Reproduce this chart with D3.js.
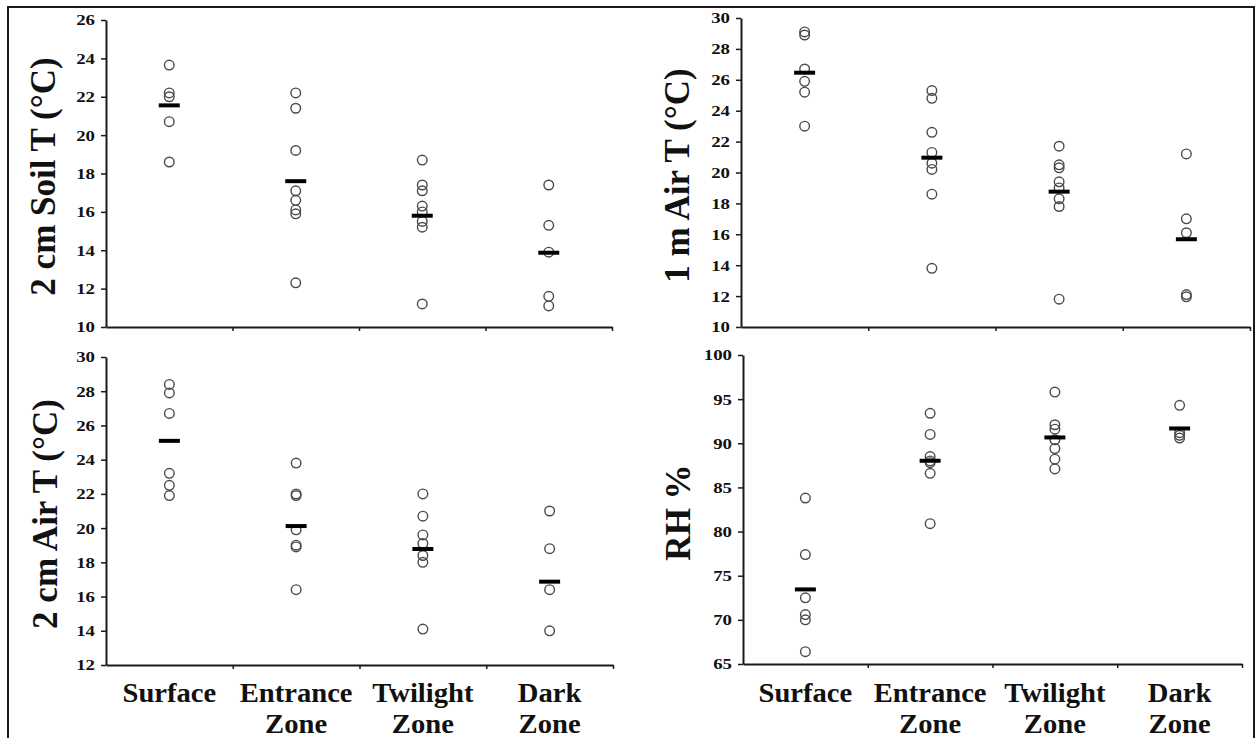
<!DOCTYPE html>
<html>
<head>
<meta charset="utf-8">
<script src="https://cdn.jsdelivr.net/npm/d3@7"></script>
<style>
  html, body { margin: 0; padding: 0; background: #fff; }
  svg { display: block; }
  text { font-family: "Liberation Serif", "Times New Roman", serif; font-weight: bold; fill: #111; }
</style>
</head>
<body>
<svg id="chart" width="1256" height="738"></svg>
<script>
// Cave microclimate by zone: individual readings (circles) and zone means (bars)
const categories = ["Surface", "Entrance Zone", "Twilight Zone", "Dark Zone"];

const soil2cm = [
  [23.65, 22.2, 22.0, 20.7, 18.6],
  [22.2, 21.4, 19.2, 17.1, 16.6, 16.1, 15.9, 12.3],
  [18.7, 17.4, 17.1, 16.3, 16.0, 15.5, 15.2, 11.2],
  [17.4, 15.3, 13.9, 11.6, 11.1]
];
const soil2cmMeans = [21.55, 17.6, 15.8, 13.87];
const soil2cmTicks = [10, 12, 14, 16, 18, 20, 22, 24, 26];

const air1m = [
  [29.1, 28.9, 26.7, 25.9, 25.2, 23.0],
  [25.3, 24.8, 22.6, 21.3, 20.6, 20.2, 18.6, 13.8],
  [21.7, 20.5, 20.3, 19.4, 19.0, 18.3, 17.8, 11.8],
  [21.2, 17.0, 16.1, 12.1, 11.95]
];
const air1mMeans = [26.46, 20.96, 18.76, 15.68];
const air1mTicks = [10, 12, 14, 16, 18, 20, 22, 24, 26, 28, 30];

const air2cm = [
  [28.4, 27.9, 26.7, 23.2, 22.5, 21.9],
  [23.8, 22.0, 21.9, 19.9, 19.0, 18.9, 16.4],
  [22.0, 20.7, 19.6, 19.1, 18.4, 18.0, 14.1],
  [21.0, 18.8, 16.4, 14.0]
];
const air2cmMeans = [25.1, 20.12, 18.78, 16.87];
const air2cmTicks = [12, 14, 16, 18, 20, 22, 24, 26, 28, 30];

const rh = [
  [83.8, 77.4, 72.5, 70.6, 70.0, 66.4],
  [93.4, 91.0, 88.5, 88.0, 87.8, 86.6, 80.9],
  [95.8, 92.1, 91.6, 90.4, 89.4, 88.2, 87.1],
  [94.3, 91.2, 90.9, 90.6]
];
const rhMeans = [73.45, 88.02, 90.66, 91.68];
const rhTicks = [65, 70, 75, 80, 85, 90, 95, 100];

const titles = ["2 cm Soil T (°C)", "1 m Air T (°C)", "2 cm Air T (°C)", "RH %"];

// Panel frames (plot areas) and which panels carry category labels
const panels = [
  { values: soil2cm, means: soil2cmMeans, ticks: soil2cmTicks, title: titles[0],
    x0: 106, x1: 612, y0: 20, y1: 327, titleX: 43, xLabels: false },
  { values: air1m, means: air1mMeans, ticks: air1mTicks, title: titles[1],
    x0: 741, x1: 1250, y0: 18, y1: 327, titleX: 677, xLabels: false },
  { values: air2cm, means: air2cmMeans, ticks: air2cmTicks, title: titles[2],
    x0: 106, x1: 613, y0: 357, y1: 665, titleX: 45, xLabels: true },
  { values: rh, means: rhMeans, ticks: rhTicks, title: titles[3],
    x0: 743, x1: 1242, y0: 355, y1: 664, titleX: 678, xLabels: true }
];

const svg = d3.select("#chart");

// Outer frame
svg.append("rect")
  .attr("x", 8).attr("y", 7)
  .attr("width", 1246).attr("height", 745)
  .attr("fill", "none").attr("stroke", "#1a1a1a").attr("stroke-width", 2);

panels.forEach(p => {
  const g = svg.append("g");

  const y = d3.scaleLinear()
    .domain(d3.extent(p.ticks))
    .range([p.y1, p.y0]);

  const x = d3.scaleBand()
    .domain(categories)
    .range([p.x0, p.x1]);

  // boundary scale for the category separator ticks
  const xb = d3.scaleLinear().domain([0, categories.length]).range([p.x0, p.x1]);

  // y axis
  const yAxis = g.append("g")
    .attr("transform", `translate(${p.x0},0)`)
    .call(d3.axisLeft(y).tickValues(p.ticks).tickSize(5).tickSizeOuter(0).tickPadding(6));
  yAxis.select(".domain").attr("stroke", "#1a1a1a").attr("stroke-width", 2);
  yAxis.selectAll(".tick line").attr("stroke", "#1a1a1a").attr("stroke-width", 1.5);
  yAxis.selectAll(".tick text")
    .attr("font-size", 15.5)
    .attr("font-family", "Liberation Serif, Times New Roman, serif")
    .attr("font-weight", "bold")
    .attr("fill", "#111")
    .attr("textLength", d => String(d).length * 9.4)
    .attr("lengthAdjust", "spacingAndGlyphs");

  // x axis with small separator ticks
  const xAxis = g.append("g")
    .attr("transform", `translate(0,${p.y1})`)
    .call(d3.axisBottom(xb).tickValues(d3.range(1, categories.length + 1)).tickSize(4).tickSizeOuter(0).tickFormat(""));
  xAxis.select(".domain").attr("stroke", "#1a1a1a").attr("stroke-width", 2);
  xAxis.selectAll(".tick line").attr("stroke", "#1a1a1a").attr("stroke-width", 1.5);

  // readings
  p.values.forEach((vals, i) => {
    const cx = x(categories[i]) + x.bandwidth() / 2;
    g.selectAll(null)
      .data(vals)
      .enter().append("circle")
      .attr("cx", cx)
      .attr("cy", d => y(d))
      .attr("r", 4.8)
      .attr("fill", "none")
      .attr("stroke", "#4a4a4a")
      .attr("stroke-width", 1.4);
  });

  // zone means
  g.selectAll(null)
    .data(p.means)
    .enter().append("rect")
    .attr("x", (d, i) => x(categories[i]) + x.bandwidth() / 2 - 10.5)
    .attr("y", d => y(d) - 2)
    .attr("width", 21)
    .attr("height", 4)
    .attr("fill", "#000");

  // y-axis title
  g.append("text")
    .attr("transform", `translate(${p.titleX + 12},${(p.y0 + p.y1) / 2 + 3}) rotate(-90)`)
    .attr("text-anchor", "middle")
    .attr("font-size", 35)
    .text(p.title);

  // category labels, slightly widened to the heavy serif look
  if (p.xLabels) {
    categories.forEach(c => {
      const cx = x(c) + x.bandwidth() / 2;
      c.split(" ").forEach((w, k) => {
        const t = g.append("text")
          .attr("text-anchor", "middle")
          .attr("font-size", 27)
          .attr("x", cx)
          .attr("y", 702 + k * 31)
          .text(w);
        const len = t.node().getComputedTextLength();
        t.attr("textLength", len * 1.06).attr("lengthAdjust", "spacingAndGlyphs");
      });
    });
  }
});
</script>
</body>
</html>
